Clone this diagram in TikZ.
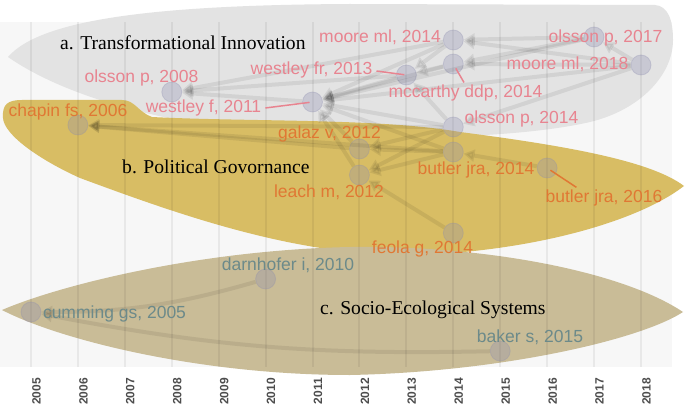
\documentclass[tikz,border=0pt]{standalone}
\usepackage{fontspec}
\setmainfont{Liberation Serif}
\setsansfont{Liberation Sans}
\usetikzlibrary{arrows.meta,calc}
\definecolor{panelbg}{HTML}{F7F7F7}
\definecolor{blobgray}{HTML}{E3E3E3}
\definecolor{blobyellow}{HTML}{D8BD64}
\definecolor{blobolive}{HTML}{C9BC97}
\definecolor{pinktxt}{RGB}{232,132,144}
\definecolor{orangetxt}{RGB}{224,120,52}
\definecolor{tealtxt}{RGB}{108,138,138}
\definecolor{yeartxt}{HTML}{4D4D4D}
\definecolor{nodecol}{RGB}{140,140,175}
\begin{document}
\begin{tikzpicture}[x=1pt,y=-1pt,
  gridline/.style={draw=black, draw opacity=0.06, line width=2pt},
  yearlab/.style={rotate=90, anchor=east, inner sep=0pt, text=yeartxt,
    font=\fontsize{12}{14}\selectfont\sffamily\bfseries},
  paper/.style={circle, minimum size=20pt, inner sep=0pt,
    fill=nodecol, fill opacity=0.3, draw=nodecol, draw opacity=0.3, line width=0.8pt},
  cite/.style={draw=black, opacity=0.075, line width=4pt,
    -{Triangle[length=11pt,width=12pt]}},
  lab/.style={inner sep=0pt, anchor=base, font=\fontsize{17.5}{20}\selectfont\sffamily},
  pinklab/.style={lab, text=pinktxt},
  orangelab/.style={lab, text=orangetxt},
  teallab/.style={lab, text=tealtxt},
  clustertitle/.style={inner sep=0pt, anchor=base west, text=black,
    font=\fontsize{19.6}{22}\selectfont\rmfamily},
  leadp/.style={draw=pinktxt, line width=1.5pt},
  leado/.style={draw=orangetxt, line width=1.5pt}
]
\useasboundingbox (0,0) rectangle (685,406);
\fill[white] (0,0) rectangle (685,406);
\fill[panelbg] (0,22) rectangle (672,367);

% cluster blobs
\fill[blobgray] (8,57) .. controls (40,20) and (150,5) .. (350,4) -- (655,5)
  .. controls (668,6) and (673,20) .. (673,40)
  .. controls (673,75) and (640,110) .. (590,122)
  .. controls (520,138) and (400,140) .. (300,135)
  .. controls (180,128) and (70,100) .. (8,57) -- cycle;
\fill[blobyellow] (3,118) .. controls (2,104) and (8,100) .. (22,100) -- (122,100)
  .. controls (135,100) and (138,112) .. (152,117)
  .. controls (250,122) and (380,118) .. (460,132)
  .. controls (560,145) and (650,160) .. (684,186)
  .. controls (640,220) and (540,250) .. (420,255)
  .. controls (300,258) and (180,215) .. (80,178)
  .. controls (40,160) and (4,135) .. (3,118) -- cycle;
\fill[blobolive] (2,310) .. controls (60,285) and (200,250) .. (350,247)
  .. controls (480,245) and (620,270) .. (683,312)
  .. controls (640,340) and (500,372) .. (350,375)
  .. controls (200,375) and (60,340) .. (2,310) -- cycle;

% grid and year axis
\foreach \yr [count=\k from 0] in {2005,...,2018} {
  \draw[gridline] ({31+46.92*\k},22) -- ({31+46.92*\k},367);
  \node[yearlab] (y\yr) at ({36.5+46.92*\k},378) {\yr};
}

% papers
\node[paper] (ch06) at (77.9,125) {};
\node[paper] (ol08) at (171.8,92) {};
\node[paper] (wf11) at (312.5,102) {};
\node[paper] (wfr13) at (406.4,75) {};
\node[paper] (mo14) at (453.3,40) {};
\node[paper] (mc14) at (453.3,64) {};
\node[paper] (ol14) at (453.3,127) {};
\node[paper] (ol17) at (594.0,37) {};
\node[paper] (mo18) at (641.0,65) {};
\node[paper] (ga12) at (359.4,149) {};
\node[paper] (le12) at (359.4,175) {};
\node[paper] (bu14) at (453.3,152) {};
\node[paper] (bu16) at (547.1,168) {};
\node[paper] (fe14) at (453.3,233) {};
\node[paper] (cu05) at (31,312) {};
\node[paper] (da10) at (265.6,279) {};
\node[paper] (ba15) at (500.2,351) {};

% citations: transformational innovation
\draw[cite] (wf11) -- (ol08);
\draw[cite] (wfr13) -- (ol08);
\draw[cite] (mo14) -- (ol08);
\draw[cite] (wfr13) -- (wf11);
\draw[cite] (mo14) -- (wf11);
\draw[cite] (mc14) -- (wf11);
\draw[cite] (ol14) -- (wf11);
\draw[cite] (ol17) -- (wf11);
\draw[cite] (mo18) -- (wf11);
\draw[cite] (mo14) -- (wfr13);
\draw[cite] (mc14) -- (wfr13);
\draw[cite] (ol14) -- (wfr13);
\draw[cite] (ol17) -- (mo14);
\draw[cite] (mo18) -- (mo14);
\draw[cite] (ol17) -- (mc14);
\draw[cite] (mo18) -- (mc14);
\draw[cite] (mo18) -- (ol17);
\draw[cite] (mo18) -- (ol14);
% political governance
\draw[cite] (ga12) -- (ch06);
\draw[cite] (bu14) -- (ch06);
\draw[cite] (ol14) -- (ch06);
\draw[cite] (ga12) -- (wf11);
\draw[cite] (le12) -- (wf11);
\draw[cite] (bu14) -- (wf11);
\draw[cite] (ol14) -- (ga12);
\draw[cite] (bu14) -- (ga12);
\draw[cite] (ol14) -- (le12);
\draw[cite] (bu14) -- (le12);
\draw[cite] (fe14) -- (le12);
\draw[cite] (bu16) -- (bu14);
% socio-ecological systems
\draw[cite] (da10) to[bend left=8] (cu05);
\draw[cite] (ba15) to[bend left=6] (cu05);

% cluster titles
\node[clustertitle] (ta) at (60,50) {a. Transformational Innovation};
\node[clustertitle] (tb) at (122,174) {b. Political Govornance};
\node[clustertitle] (tc) at (320,314) {c. Socio-Ecological Systems};

% paper labels
\node[pinklab] (Lol08) at (141.5,83) {olsson p, 2008};
\node[pinklab] (Lwf11) at (203.5,113) {westley f, 2011};
\node[pinklab] (Lwfr13) at (311.5,75) {westley fr, 2013};
\node[pinklab] (Lmo14) at (380,43) {moore ml, 2014};
\node[pinklab] (Lmc14) at (465.5,98) {mccarthy ddp, 2014};
\node[pinklab] (Lol17) at (605.5,43) {olsson p, 2017};
\node[pinklab] (Lmo18) at (567.5,70) {moore ml, 2018};
\node[pinklab] (Lol14) at (521.5,124) {olsson p, 2014};
\node[orangelab] (Lch06) at (68,117) {chapin fs, 2006};
\node[orangelab] (Lga12) at (329.5,139) {galaz v, 2012};
\node[orangelab] (Lle12) at (329,197) {leach m, 2012};
\node[orangelab] (Lbu14) at (476,175) {butler jra, 2014};
\node[orangelab] (Lbu16) at (604,203) {butler jra, 2016};
\node[orangelab] (Lfe14) at (422.5,253) {feola g, 2014};
\node[teallab] (Lda10) at (288,270) {darnhofer i, 2010};
\node[teallab] (Lcu05) at (114.5,318) {cumming gs, 2005};
\node[teallab] (Lba15) at (530,342) {baker s, 2015};

% leader lines
\draw[leadp, shorten <=4pt, shorten >=3pt] (Lwf11.east) -- (wf11.center);
\draw[leadp, shorten <=4pt, shorten >=2pt] (Lwfr13.east) -- (wfr13.center);
\draw[leadp, shorten <=3pt, shorten >=5pt] (Lmc14.north) -- (mc14.center);
\draw[leado, shorten <=4pt, shorten >=5pt] (bu16.center) -- ($(Lbu16.north west)!0.3!(Lbu16.north east)$);
\end{tikzpicture}
\end{document}
